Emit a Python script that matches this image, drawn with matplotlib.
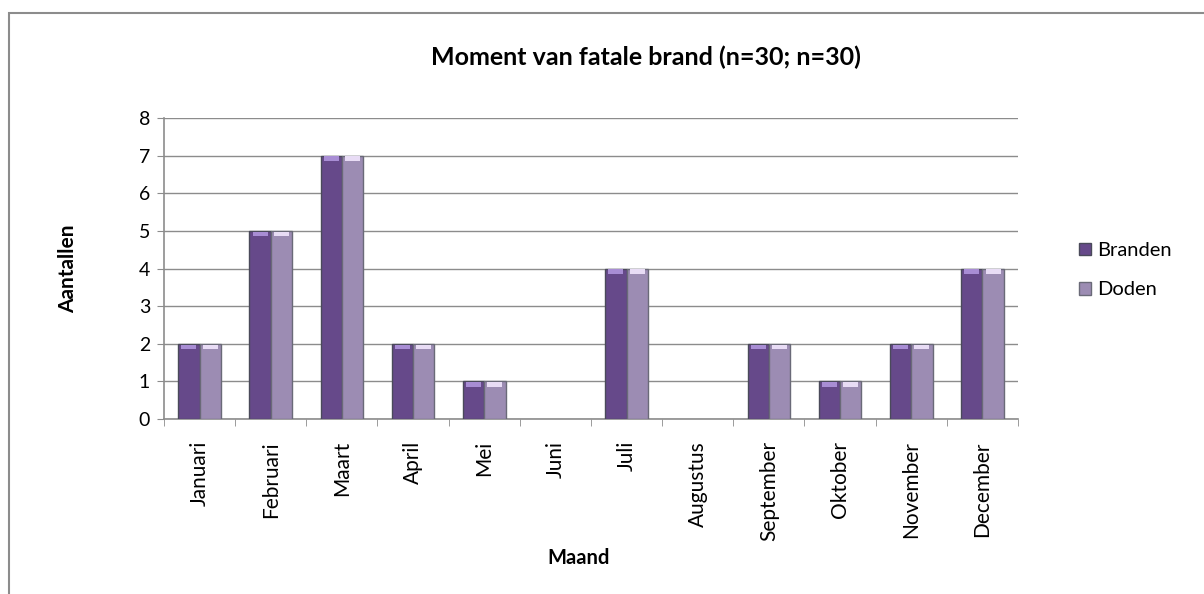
import matplotlib.pyplot as plt
import numpy as np
from matplotlib.patches import Rectangle, Patch

# data
maanden = ["Januari", "Februari", "Maart", "April", "Mei", "Juni", "Juli",
           "Augustus", "September", "Oktober", "November", "December"]
branden = [2, 5, 7, 2, 1, 0, 4, 0, 2, 1, 2, 4]
doden = [2, 5, 7, 2, 1, 0, 4, 0, 2, 1, 2, 4]

plt.rcParams['font.family'] = ['Lato', 'DejaVu Sans']

fig = plt.figure(figsize=(12.04, 5.94), dpi=100)
ax = fig.add_axes([0.1362, 0.2946, 0.7093, 0.5067])

# outer chart border
fig.patches.append(Rectangle((9 / 1204, -0.1), 1.2, 1 - 13 / 594 + 0.1,
                             transform=fig.transFigure, fill=False,
                             edgecolor='#8c8c8c', linewidth=1.5))

x = np.arange(len(maanden))
w = 0.3
dark = '#66498a'
light = '#9c8cb3'

b = np.array(branden)
d = np.array(doden)
ax.bar(x - w / 2, b, w, color=dark, edgecolor='#4a4a5a',
       linewidth=np.where(b > 0, 1.0, 0), zorder=3)
ax.bar(x + w / 2, d, w, color=light, edgecolor='#6a6a78',
       linewidth=np.where(d > 0, 1.0, 0), zorder=3)

# top highlight
hb = b > 0
ax.bar((x - w / 2)[hb], 0.12, w * 0.7, bottom=b[hb] - 0.14, color='#a88dd4', zorder=4)
ax.bar((x + w / 2)[hb], 0.12, w * 0.7, bottom=d[hb] - 0.14, color='#e8dcf5', zorder=4)

ax.set_xlim(-0.5, len(maanden) - 0.5)
ax.set_ylim(0, 8)
ax.set_yticks(range(0, 9))
ax.yaxis.grid(True, color='#8c8c8c', linewidth=1)
ax.set_axisbelow(True)

ax.set_xticks(x)
ax.set_xticklabels(maanden, rotation=90, fontsize=15)
ax.set_xticks(np.arange(-0.5, len(maanden)), minor=True)
ax.tick_params(axis='x', which='major', length=0, pad=16)
ax.tick_params(axis='x', which='minor', length=5, color='#8c8c8c')
ax.tick_params(axis='y', labelsize=14, length=5, color='#8c8c8c', pad=5)

for s in ['top', 'right']:
    ax.spines[s].set_visible(False)
for s in ['left', 'bottom']:
    ax.spines[s].set_color('#8c8c8c')
    ax.spines[s].set_linewidth(1.2)

ax.set_ylabel("Aantallen", fontsize=15, fontweight='bold', labelpad=44)
ax.set_xlabel("Maand", fontsize=14.5, fontweight='bold')
ax.xaxis.set_label_coords(0.485, -0.43)
fig.text(0.5365, 0.904, "Moment van fatale brand (n=30; n=30)",
         ha='center', va='center', fontsize=18, fontweight='bold')

handles = [Patch(facecolor=dark, edgecolor='#4a4a5a'),
           Patch(facecolor=light, edgecolor='#6a6a78')]
fig.legend(handles, ["Branden", "Doden"], loc='center left',
           bbox_to_anchor=(0.881, 0.545), frameon=False, fontsize=14.5,
           handlelength=0.6, handleheight=0.6, handletextpad=0.3,
           labelspacing=1.1)

fig.savefig("out.png", dpi=100)
